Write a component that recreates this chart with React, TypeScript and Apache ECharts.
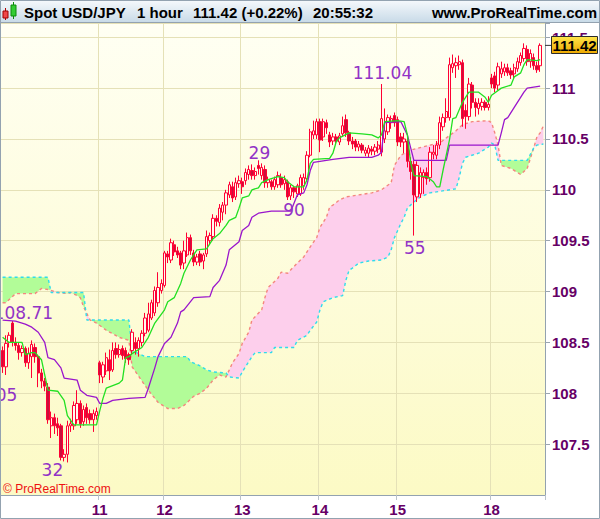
import React, { useEffect, useRef } from 'react';
import * as echarts from 'echarts';

// ---------- data ----------
const dayLabels = ['11', '12', '13', '14', '15', '18'];
const dayStarts = [30, 50, 74, 98, 122, 151];
const slotCount = 168;

// [open, close, low, high]
const candles: number[][] = [
  [108.42, 108.26, 108.20, 108.46], [108.26, 108.49, 108.18, 108.57], [108.50, 108.57, 108.45, 108.60], [108.69, 108.50, 108.46, 108.71],
  [108.50, 108.47, 108.42, 108.55], [108.47, 108.40, 108.33, 108.50], [108.40, 108.44, 108.36, 108.47], [108.44, 108.30, 108.26, 108.46],
  [108.30, 108.39, 108.24, 108.45], [108.36, 108.48, 108.15, 108.52], [108.45, 108.36, 108.30, 108.49], [108.36, 108.20, 108.06, 108.38],
  [108.20, 108.12, 108.05, 108.24], [108.12, 108.07, 108.02, 108.15], [108.06, 107.74, 107.70, 108.10], [107.68, 107.76, 107.56, 107.82],
  [107.76, 107.68, 107.60, 107.80], [107.70, 107.66, 107.58, 107.76], [107.68, 107.37, 107.34, 107.70], [107.37, 107.40, 107.33, 107.45],
  [107.40, 107.68, 107.32, 107.73], [107.68, 107.70, 107.62, 107.75], [107.68, 107.88, 107.64, 107.92], [107.74, 107.90, 107.70, 108.03],
  [107.90, 107.70, 107.66, 107.93], [107.72, 107.84, 107.68, 107.88], [107.86, 107.76, 107.70, 107.90], [107.80, 107.74, 107.70, 107.84],
  [107.74, 107.80, 107.62, 107.84], [107.78, 107.82, 107.74, 107.86], [108.30, 108.18, 108.10, 108.32], [108.16, 108.28, 108.10, 108.31],
  [108.22, 108.35, 108.18, 108.40], [108.33, 108.22, 108.13, 108.43], [108.23, 108.42, 108.21, 108.50], [108.44, 108.38, 108.34, 108.50],
  [108.38, 108.43, 108.35, 108.48], [108.44, 108.37, 108.33, 108.47], [108.42, 108.34, 108.30, 108.45], [108.38, 108.33, 108.28, 108.40],
  [108.42, 108.60, 108.38, 108.63], [108.50, 108.44, 108.38, 108.55], [108.44, 108.52, 108.36, 108.55], [108.50, 108.59, 108.46, 108.62],
  [108.59, 108.74, 108.56, 108.79], [108.62, 108.78, 108.60, 108.89], [108.74, 108.89, 108.72, 108.92], [108.79, 109.01, 108.76, 109.05],
  [108.89, 109.04, 108.85, 109.19], [109.01, 109.08, 108.98, 109.12], [109.06, 109.38, 109.04, 109.40], [109.37, 109.34, 109.28, 109.40],
  [109.31, 109.48, 109.28, 109.52], [109.46, 109.39, 109.35, 109.50], [109.40, 109.36, 109.33, 109.44], [109.38, 109.26, 109.22, 109.40],
  [109.28, 109.40, 109.22, 109.50], [109.36, 109.53, 109.34, 109.58], [109.53, 109.40, 109.36, 109.56], [109.38, 109.29, 109.25, 109.41],
  [109.29, 109.34, 109.26, 109.37], [109.37, 109.29, 109.25, 109.40], [109.30, 109.36, 109.22, 109.38], [109.37, 109.54, 109.34, 109.60],
  [109.50, 109.55, 109.46, 109.58], [109.54, 109.72, 109.50, 109.76], [109.72, 109.69, 109.64, 109.75], [109.68, 109.82, 109.64, 109.86],
  [109.78, 109.85, 109.70, 109.88], [109.85, 109.97, 109.76, 110.00], [109.95, 110.05, 109.92, 110.08], [110.03, 109.92, 109.88, 110.08],
  [109.93, 110.07, 109.90, 110.12], [110.06, 110.09, 110.02, 110.14], [110.08, 110.03, 109.96, 110.12], [110.09, 110.17, 110.05, 110.21],
  [110.15, 110.20, 110.10, 110.24], [110.19, 110.14, 110.10, 110.25], [110.14, 110.18, 110.10, 110.22], [110.24, 110.21, 110.15, 110.29],
  [110.14, 110.22, 110.10, 110.26], [110.20, 110.07, 110.02, 110.24], [110.07, 110.10, 110.02, 110.13], [110.08, 110.03, 110.00, 110.10],
  [110.03, 110.10, 110.00, 110.13], [110.05, 110.14, 110.02, 110.18], [110.12, 110.05, 110.02, 110.16], [110.06, 110.10, 110.00, 110.14],
  [110.08, 109.93, 109.90, 110.10], [109.94, 110.02, 109.90, 110.05], [110.02, 109.98, 109.92, 110.04], [109.96, 110.04, 109.93, 110.06],
  [109.96, 110.12, 109.94, 110.15], [110.04, 110.12, 110.00, 110.16], [110.11, 110.34, 110.08, 110.38], [110.34, 110.57, 110.32, 110.60],
  [110.54, 110.58, 110.50, 110.68], [110.54, 110.67, 110.50, 110.70], [110.67, 110.49, 110.37, 110.70], [110.52, 110.67, 110.48, 110.70],
  [110.66, 110.61, 110.55, 110.69], [110.54, 110.47, 110.42, 110.57], [110.48, 110.52, 110.44, 110.56], [110.52, 110.48, 110.44, 110.55],
  [110.47, 110.53, 110.44, 110.56], [110.55, 110.63, 110.52, 110.72], [110.69, 110.56, 110.52, 110.74], [110.56, 110.48, 110.44, 110.58],
  [110.48, 110.45, 110.40, 110.52], [110.48, 110.42, 110.38, 110.50], [110.42, 110.45, 110.38, 110.48], [110.44, 110.39, 110.36, 110.46],
  [110.36, 110.39, 110.33, 110.42], [110.36, 110.41, 110.32, 110.44], [110.40, 110.38, 110.34, 110.43], [110.38, 110.42, 110.34, 110.45],
  [110.40, 110.44, 110.36, 110.48], [110.37, 110.70, 110.33, 111.04], [110.50, 110.58, 110.46, 110.80], [110.57, 110.71, 110.54, 110.74],
  [110.66, 110.70, 110.60, 110.73], [110.73, 110.66, 110.62, 110.76], [110.69, 110.47, 110.43, 110.72], [110.52, 110.47, 110.42, 110.56],
  [110.47, 110.50, 110.36, 110.56], [110.48, 110.28, 110.22, 110.52], [110.28, 110.18, 110.10, 110.32], [110.25, 109.95, 109.55, 110.29],
  [109.93, 110.24, 109.88, 110.28], [109.96, 110.17, 109.92, 110.22], [110.12, 110.17, 109.96, 110.20], [110.17, 110.11, 110.05, 110.22],
  [110.12, 110.37, 110.08, 110.42], [110.35, 110.37, 110.30, 110.44], [110.34, 110.44, 110.30, 110.48], [110.44, 110.66, 110.40, 110.72],
  [110.62, 110.71, 110.58, 110.75], [110.71, 110.77, 110.66, 110.90], [110.71, 111.23, 110.68, 111.30], [111.20, 111.24, 111.15, 111.33],
  [111.22, 111.25, 111.10, 111.30], [111.23, 111.26, 111.18, 111.32], [111.25, 110.70, 110.62, 111.28], [110.78, 110.72, 110.60, 110.84],
  [110.72, 111.04, 110.68, 111.10], [111.03, 110.86, 110.80, 111.06], [110.86, 110.81, 110.72, 110.90], [110.80, 110.85, 110.74, 110.90],
  [110.82, 110.86, 110.78, 110.90], [110.86, 110.81, 110.78, 110.88], [110.81, 110.84, 110.78, 110.92], [111.10, 111.04, 111.00, 111.14],
  [111.12, 111.00, 110.96, 111.16], [111.03, 111.21, 110.98, 111.25], [111.14, 111.19, 111.10, 111.26], [111.16, 111.20, 111.12, 111.24],
  [111.20, 111.15, 111.12, 111.24], [111.17, 111.13, 111.09, 111.20], [111.14, 111.20, 111.10, 111.24], [111.19, 111.26, 111.16, 111.30],
  [111.25, 111.32, 111.22, 111.35], [111.29, 111.39, 111.26, 111.44], [111.38, 111.26, 111.22, 111.42], [111.26, 111.34, 111.20, 111.38],
  [111.30, 111.22, 111.18, 111.34], [111.22, 111.18, 111.15, 111.26], [111.22, 111.42, 111.16, 111.44],
];

// [candle index, value] vertices
const tenkan: number[][] = [
  [0, 108.55], [2, 108.50], [6, 108.50], [7, 108.38], [9, 108.40], [10, 108.40], [12, 108.33], [13, 108.18], [14, 108.03],
  [17, 108.02], [19, 107.93], [20, 107.78], [22, 107.69], [29, 107.69], [30, 107.83], [31, 107.95], [32, 108.05], [36, 108.10],
  [37, 108.13], [38, 108.35], [39, 108.36], [40, 108.39], [43, 108.45], [45, 108.55], [47, 108.69], [50, 108.82], [51, 108.90],
  [53, 108.94], [55, 109.08], [56, 109.18], [58, 109.31], [60, 109.41], [63, 109.42], [65, 109.52], [67, 109.57], [69, 109.65],
  [70, 109.70], [72, 109.73], [73, 109.82], [74, 109.92], [76, 109.94], [77, 110.00], [79, 110.02], [80, 110.07], [82, 110.10],
  [85, 110.13], [87, 110.12], [88, 110.08], [90, 110.03], [93, 110.03], [94, 110.10], [95, 110.26], [96, 110.30], [101, 110.31],
  [102, 110.36], [103, 110.47], [104, 110.51], [107, 110.56], [111, 110.55], [114, 110.54], [116, 110.51], [117, 110.54],
  [118, 110.67], [122, 110.68], [124, 110.67], [125, 110.54], [126, 110.27], [127, 110.14], [131, 110.13], [133, 110.08],
  [134, 110.03], [135, 110.03], [136, 110.19], [138, 110.49], [139, 110.70], [140, 110.71], [142, 110.86], [144, 110.96],
  [147, 110.96], [149, 110.91], [150, 110.86], [151, 110.93], [154, 111.00], [157, 111.03], [158, 111.11], [160, 111.15],
  [161, 111.23], [162, 111.28], [165, 111.27], [166, 111.28],
];

const kijun: number[][] = [
  [0, 108.72], [4, 108.71], [7, 108.68], [9, 108.65], [11, 108.60], [13, 108.50], [14, 108.35], [16, 108.33], [18, 108.25],
  [19, 108.15], [23, 108.13], [24, 108.03], [26, 107.98], [29, 107.96], [30, 107.90], [32, 107.90], [34, 107.93], [39, 107.95],
  [44, 107.96], [45, 108.05], [47, 108.25], [48, 108.36], [50, 108.49], [52, 108.55], [54, 108.69], [55, 108.80], [56, 108.82],
  [59, 108.94], [64, 108.95], [65, 109.04], [67, 109.11], [69, 109.26], [70, 109.41], [73, 109.49], [74, 109.60], [76, 109.65],
  [77, 109.73], [79, 109.77], [83, 109.79], [89, 109.79], [91, 109.95], [93, 109.97], [94, 110.05], [95, 110.19], [96, 110.27],
  [102, 110.30], [107, 110.32], [114, 110.32], [116, 110.34], [117, 110.37], [118, 110.66], [123, 110.67], [125, 110.54],
  [127, 110.29], [137, 110.29], [138, 110.44], [153, 110.44], [154, 110.56], [155, 110.69], [156, 110.71], [158, 110.81],
  [161, 110.96], [162, 111.00], [166, 111.02],
];

const spanA: number[][] = [
  [0, 108.89], [1, 108.89], [4, 108.98], [10, 108.98], [12, 109.03], [14, 109.02], [17, 108.99], [20, 108.98], [21, 108.99],
  [23, 108.96], [24, 108.94], [25, 108.85], [27, 108.72], [29, 108.69], [32, 108.62], [36, 108.55], [39, 108.52], [40, 108.26],
  [45, 108.03], [48, 107.91], [51, 107.85], [54, 107.85], [56, 107.88], [59, 107.97], [61, 108.00], [63, 108.05], [65, 108.13],
  [67, 108.18], [69, 108.16], [71, 108.30], [73, 108.39], [74, 108.49], [76, 108.60], [77, 108.72], [80, 108.82], [81, 108.94],
  [82, 109.04], [85, 109.13], [86, 109.19], [88, 109.18], [91, 109.28], [93, 109.34], [95, 109.44], [97, 109.53], [98, 109.63],
  [100, 109.73], [101, 109.83], [102, 109.85], [104, 109.90], [106, 109.93], [110, 109.95], [114, 109.97], [117, 110.00],
  [120, 110.07], [121, 110.24], [123, 110.34], [126, 110.39], [132, 110.44], [135, 110.46], [137, 110.51], [140, 110.58],
  [142, 110.64], [145, 110.67], [150, 110.68], [151, 110.66], [152, 110.56], [153, 110.44], [154, 110.24], [157, 110.21],
  [160, 110.15], [162, 110.21], [164, 110.41], [165, 110.52], [166, 110.56], [167, 110.63],
];

const spanB: number[][] = [
  [0, 109.14], [14, 109.14], [15, 108.99], [25, 108.99], [26, 108.72], [39, 108.72], [40, 108.42], [44, 108.36], [57, 108.36],
  [58, 108.31], [61, 108.27], [63, 108.23], [65, 108.21], [69, 108.20], [70, 108.16], [73, 108.15], [74, 108.21], [77, 108.36],
  [78, 108.40], [83, 108.40], [84, 108.45], [90, 108.45], [91, 108.52], [94, 108.57], [95, 108.62], [97, 108.70], [98, 108.82],
  [99, 108.90], [102, 108.94], [105, 108.96], [106, 109.11], [107, 109.21], [108, 109.23], [110, 109.28], [113, 109.30],
  [117, 109.31], [119, 109.34], [120, 109.41], [121, 109.53], [123, 109.67], [124, 109.73], [125, 109.82], [127, 109.88],
  [129, 109.93], [132, 109.97], [140, 110.01], [141, 110.12], [142, 110.26], [143, 110.32], [147, 110.36], [150, 110.42],
  [151, 110.46], [152, 110.44], [153, 110.29], [162, 110.29], [164, 110.41], [165, 110.44], [167, 110.45],
];

const annotationTexts = ['111.04', '29', '90', '55', '32', '108.71', '108.05'];
const annotationIdx = [117, 79, 90, 127, 20, 3, 0];
const annotationValues = [111.04, 110.29, 109.90, 109.55, 107.32, 108.71, 108.05];

const lastPrice = 111.42;
const headerTexts = ['Spot USD/JPY', '1 hour', '111.42 (+0.22%)', '20:55:32'];
const siteText = 'www.ProRealTime.com';
const copyrightText = '© ProRealTime.com';

// ---------- style / layout ----------
const annotationOffsets = [[1, -11], [1, -7], [0, 10], [1, 12], [-15, 8], [11, -8], [-15, 7]];
const headerX = [24, 137, 193, 313];
const FONT = "'Liberation Sans', Arial, sans-serif";
const AXIS_COLOR = '#660066';
const FRAME = '#93a2b0';
const GRIDLINE = '#e5e1b7';

function interp(line: number[][], x: number): number {
  const n = line.length;
  if (x <= line[0][0]) return line[0][1];
  if (x >= line[n - 1][0]) return line[n - 1][1];
  for (let k = 0; k < n - 1; k++) {
    const [x0, y0] = line[k];
    const [x1, y1] = line[k + 1];
    if (x >= x0 && x <= x1) return x1 === x0 ? y1 : y0 + ((y1 - y0) * (x - x0)) / (x1 - x0);
  }
  return line[n - 1][1];
}

function cloudPolygons(a: number[][], b: number[][]) {
  const xs = Array.from(new Set([...a.map((p) => p[0]), ...b.map((p) => p[0])])).sort((p, q) => p - q);
  const pts: number[][] = [];
  for (let k = 0; k < xs.length; k++) {
    const x = xs[k];
    const ya = interp(a, x);
    const yb = interp(b, x);
    if (pts.length) {
      const prev = pts[pts.length - 1];
      const d0 = prev[1] - prev[2];
      const d1 = ya - yb;
      if (d0 * d1 < 0) {
        const t = d0 / (d0 - d1);
        const xc = prev[0] + t * (x - prev[0]);
        const yc = prev[1] + t * (ya - prev[1]);
        pts.push([xc, yc, yc]);
      }
    }
    pts.push([x, ya, yb]);
  }
  const runs: { pink: boolean; pts: number[][] }[] = [];
  let run: number[][] = [];
  let sign = 0;
  for (let k = 0; k < pts.length - 1; k++) {
    const p = pts[k];
    const q = pts[k + 1];
    const s = Math.sign(p[2] - p[1] + (q[2] - q[1]));
    if (s !== sign) {
      if (run.length > 1 && sign !== 0) runs.push({ pink: sign > 0, pts: run });
      run = [p];
      sign = s;
    }
    run.push(q);
  }
  if (run.length > 1 && sign !== 0) runs.push({ pink: sign > 0, pts: run });
  return runs.map((r) => ({
    pink: r.pink,
    points: [...r.pts.map((p) => [p[0], p[1]]), ...r.pts.slice().reverse().map((p) => [p[0], p[2]])],
  }));
}

export default function App() {
  const ref = useRef<HTMLDivElement>(null);

  useEffect(() => {
    if (!ref.current) return;
    const chart = echarts.init(ref.current, undefined, { renderer: 'svg' });
    const categories = Array.from({ length: slotCount }, (_, i) => {
      const d = dayStarts.indexOf(i);
      return d >= 0 ? dayLabels[d] : '';
    });
    const isDay = (idx: number) => dayStarts.indexOf(idx) >= 0;

    const option: any = {
      animation: false,
      grid: {
        left: 1,
        right: 55,
        top: 23,
        bottom: 24,
        show: true,
        borderWidth: 0,
        backgroundColor: new echarts.graphic.LinearGradient(0, 0, 0, 1, [
          { offset: 0, color: '#fffff3' },
          { offset: 1, color: '#fcfac5' },
        ]),
      },
      xAxis: {
        type: 'category',
        data: categories,
        boundaryGap: true,
        axisLine: { show: true, lineStyle: { color: FRAME, width: 1 } },
        axisTick: { show: true, interval: isDay, length: 5, lineStyle: { color: '#b9c2ca' } },
        axisLabel: {
          interval: isDay,
          color: AXIS_COLOR,
          fontWeight: 'bold',
          fontSize: 15,
          fontFamily: FONT,
          margin: 7,
        },
        splitLine: { show: true, interval: isDay, lineStyle: { color: GRIDLINE, width: 1 } },
      },
      yAxis: {
        type: 'value',
        position: 'right',
        min: 107,
        max: 111.64,
        interval: 0.5,
        scale: true,
        axisLine: { show: true, lineStyle: { color: FRAME, width: 1 } },
        axisTick: { show: true, length: 5, lineStyle: { color: '#9aa5b0' } },
        axisLabel: {
          color: AXIS_COLOR,
          fontWeight: 'bold',
          fontSize: 15,
          fontFamily: FONT,
          margin: 7,
          showMinLabel: false,
          formatter: (v: number) =>
            v > 107.01 && Math.abs(v * 2 - Math.round(v * 2)) < 1e-6 ? String(+v.toFixed(1)) : '',
        },
        splitLine: { show: true, lineStyle: { color: GRIDLINE, width: 1 } },
      },
      series: [
        {
          type: 'custom',
          name: 'cloud',
          clip: true,
          silent: true,
          z: 1,
          data: [[0, 109]],
          renderItem: (_params: any, api: any) => {
            const pa = spanA.map(([i, v]) => api.coord([i, v]));
            const pb = spanB.map(([i, v]) => api.coord([i, v]));
            const polys = cloudPolygons(pa, pb);
            return {
              type: 'group',
              children: polys.map((p) => ({
                type: 'polygon',
                shape: { points: p.points },
                style: { fill: p.pink ? '#fdcfec' : '#b2fc98', lineWidth: 0 },
              })),
            };
          },
        },
        {
          type: 'line',
          name: 'Senkou A',
          data: spanA,
          symbol: 'none',
          silent: true,
          z: 2,
          lineStyle: { color: '#f4867e', width: 1.4, type: [3, 3] },
        },
        {
          type: 'line',
          name: 'Senkou B',
          data: spanB,
          symbol: 'none',
          silent: true,
          z: 2,
          lineStyle: { color: '#2fdcec', width: 1.4, type: [3, 3] },
        },
        {
          type: 'candlestick',
          name: 'USD/JPY',
          data: candles,
          barWidth: '88%',
          z: 3,
          itemStyle: {
            color: '#fffdf0',
            color0: '#c8103c',
            borderColor: '#ff0033',
            borderColor0: '#ff0033',
            borderWidth: 1,
          },
        },
        {
          type: 'line',
          name: 'Kijun',
          data: kijun,
          symbol: 'none',
          silent: true,
          z: 4,
          lineStyle: { color: '#9a16cc', width: 1.3 },
        },
        {
          type: 'line',
          name: 'Tenkan',
          data: tenkan,
          symbol: 'none',
          silent: true,
          z: 4,
          lineStyle: { color: '#22e022', width: 1.3 },
        },
      ],
    };
    chart.setOption(option);

    const priceY = chart.convertToPixel({ yAxisIndex: 0 }, lastPrice) as number;
    const annotationEls = annotationTexts.map((t, k) => {
      const p = chart.convertToPixel({ gridIndex: 0 }, [annotationIdx[k], annotationValues[k]]) as number[];
      return {
        type: 'text',
        x: p[0] + annotationOffsets[k][0],
        y: p[1] + annotationOffsets[k][1],
        z: 100,
        style: {
          text: t,
          fill: '#9233c6',
          font: "17px 'DejaVu Sans', sans-serif",
          align: 'center',
          verticalAlign: 'middle',
          textAlign: 'center',
          textVerticalAlign: 'middle',
        },
      };
    });

    const headerFont = `bold 15px ${FONT}`;
    const headerEls: any[] = [
      {
        type: 'rect',
        z: 100,
        shape: { x: 0, y: 0, width: 600, height: 22 },
        style: {
          fill: new echarts.graphic.LinearGradient(0, 0, 0, 1, [
            { offset: 0, color: '#f6f9fc' },
            { offset: 1, color: '#c9dbe8' },
          ]),
        },
      },
      { type: 'line', z: 101, shape: { x1: 0, y1: 22.5, x2: 600, y2: 22.5 }, style: { stroke: FRAME, lineWidth: 1 } },
      // small candle icon
      { type: 'line', z: 102, shape: { x1: 5.5, y1: 8, x2: 5.5, y2: 20 }, style: { stroke: '#b00000', lineWidth: 1 } },
      { type: 'rect', z: 103, shape: { x: 3, y: 11, width: 5, height: 7 }, style: { fill: '#f04848', stroke: '#a00000', lineWidth: 1 } },
      { type: 'line', z: 102, shape: { x1: 13.5, y1: 2, x2: 13.5, y2: 19 }, style: { stroke: '#0a8a0a', lineWidth: 1 } },
      { type: 'rect', z: 103, shape: { x: 11, y: 5, width: 5, height: 11 }, style: { fill: '#33cc33', stroke: '#0a8a0a', lineWidth: 1 } },
      ...headerTexts.map((t, k) => ({
        type: 'text',
        z: 102,
        x: headerX[k],
        y: 12,
        style: { text: t, fill: '#000', font: headerFont, align: 'left', verticalAlign: 'middle', textAlign: 'left', textVerticalAlign: 'middle' },
      })),
      {
        type: 'text',
        z: 102,
        x: 597,
        y: 12,
        style: { text: siteText, fill: '#000', font: headerFont, align: 'right', verticalAlign: 'middle', textAlign: 'right', textVerticalAlign: 'middle' },
      },
    ];

    const otherEls: any[] = [
      {
        type: 'text',
        z: 100,
        x: 3,
        y: 489,
        style: { text: copyrightText, fill: '#ee1111', font: `12px ${FONT}`, align: 'left', verticalAlign: 'middle', textAlign: 'left', textVerticalAlign: 'middle' },
      },
      { type: 'line', z: 104, shape: { x1: 545, y1: priceY, x2: 551, y2: priceY }, style: { stroke: '#333', lineWidth: 1 } },
      {
        type: 'rect',
        z: 104,
        shape: { x: 551.5, y: Math.round(priceY) - 8.5, width: 46, height: 17 },
        style: {
          fill: new echarts.graphic.LinearGradient(0, 0, 0, 1, [
            { offset: 0, color: '#ffe64a' },
            { offset: 1, color: '#eda800' },
          ]),
          stroke: '#2a2a2a',
          lineWidth: 1,
        },
      },
      {
        type: 'text',
        z: 105,
        x: 574.5,
        y: Math.round(priceY) + 0.5,
        style: { text: String(lastPrice), fill: '#000', font: `bold 15px ${FONT}`, align: 'center', verticalAlign: 'middle', textAlign: 'center', textVerticalAlign: 'middle' },
      },
      {
        type: 'rect',
        z: 110,
        shape: { x: 0.5, y: 0.5, width: 599, height: 518 },
        style: { fill: 'none', stroke: FRAME, lineWidth: 1 },
      },
    ];

    chart.setOption({ graphic: [...headerEls, ...annotationEls, ...otherEls] });

    return () => chart.dispose();
  }, []);

  return (
    <div
      ref={ref}
      style={{ position: 'fixed', left: 0, top: 0, width: 600, height: 519, background: '#ffffff' }}
    />
  );
}
